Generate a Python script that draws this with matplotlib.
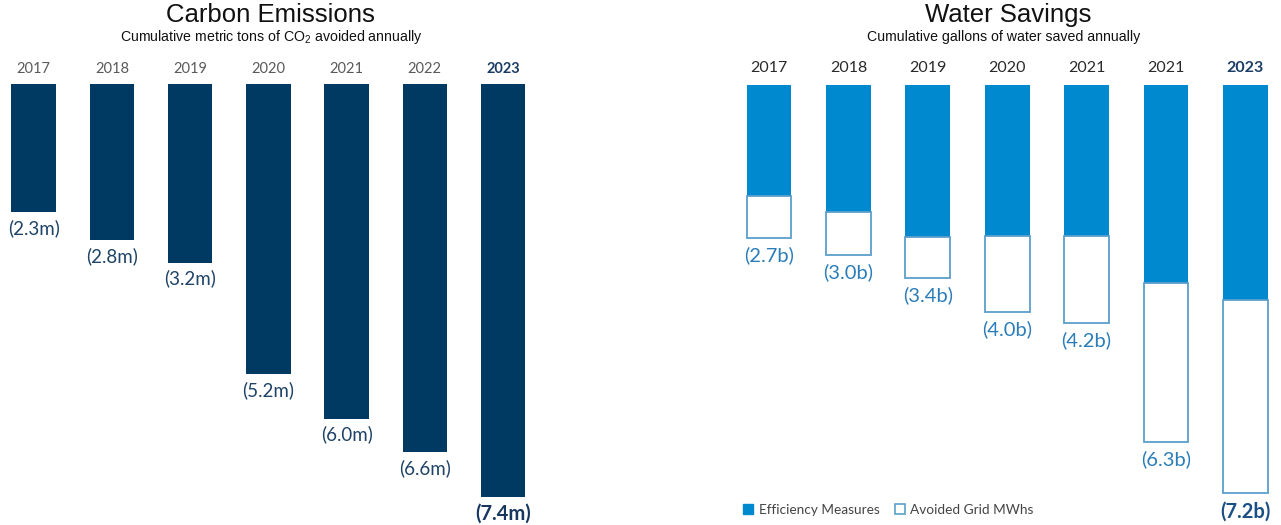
import matplotlib.pyplot as plt
from matplotlib.patches import Patch

plt.rcParams['font.family'] = ['Lato', 'DejaVu Sans']
plt.rcParams['mathtext.fontset'] = 'custom'
plt.rcParams['mathtext.rm'] = 'Liberation Sans'

# data
carbon_years = ['2017', '2018', '2019', '2020', '2021', '2022', '2023']
carbon_values = [2.3, 2.8, 3.2, 5.2, 6.0, 6.6, 7.4]  # million metric tons

water_years = ['2017', '2018', '2019', '2020', '2021', '2021', '2023']
water_efficiency = [1.96, 2.24, 2.68, 2.66, 2.66, 3.49, 3.79]  # billion gallons
water_avoided = [0.74, 0.76, 0.72, 1.34, 1.54, 2.81, 3.41]
water_totals = [2.7, 3.0, 3.4, 4.0, 4.2, 6.3, 7.2]

NAVY = '#003a63'
BLUE = '#0089cf'
OUTLINE = '#5a9fca'

W, H = 1281, 525
fig = plt.figure(figsize=(W / 100, H / 100), dpi=100)


def px_axes(x0, x1, top, bottom):
    return fig.add_axes([x0 / W, (H - bottom) / H, (x1 - x0) / W, (bottom - top) / H])


def clean(ax):
    for s in ax.spines.values():
        s.set_visible(False)
    ax.set_yticks([])
    ax.xaxis.tick_top()
    ax.tick_params(axis='x', length=0)


# ---- Carbon Emissions ----
ax1 = px_axes(2.5, 534.3, 84, 512)
ax1.set_xlim(-0.4, 6.4)
ax1.set_ylim((512 - 84) / 55.8, 0)
x = list(range(len(carbon_years)))
ax1.bar(x, carbon_values, width=0.57, color=NAVY, align='center')
clean(ax1)
ax1.set_xticks(x)
ax1.set_xticklabels(carbon_years, fontsize=10.5, color='#5a5a5a')
ax1.tick_params(axis='x', pad=6)
lab = ax1.get_xticklabels()[-1]
lab.set_fontweight('bold')
lab.set_color('#1b3d66')
for i, v in enumerate(carbon_values):
    last = i == len(carbon_values) - 1
    ax1.annotate(f'({v:.1f}m)', (i, v), xytext=(0, -5), textcoords='offset points',
                 ha='center', va='top', fontsize=14.5 if last else 13.5,
                 fontweight='bold' if last else 'normal',
                 color='#17375e' if last else '#1f4468', annotation_clip=False)

fig.text(270 / W, 1 - 15 / H, 'Carbon Emissions', ha='center', va='center',
         fontsize=18.5, family='Liberation Sans', color='#111111')
fig.text(271 / W, 1 - 37 / H, r'Cumulative metric tons of CO$_{2}$ avoided annually',
         ha='center', va='center', fontsize=10.2, family='Liberation Sans', color='#111111')

# ---- Water Savings ----
ax2 = px_axes(737.2, 1277.1, 85, 512)
ax2.set_xlim(-0.4, 6.4)
ax2.set_ylim((512 - 85) / 56.7, 0)
x2 = list(range(len(water_years)))
ax2.bar(x2, water_efficiency, width=0.565, color=BLUE, linewidth=0)
ax2.bar(x2, water_avoided, width=0.565, bottom=water_efficiency, facecolor='white',
        edgecolor=OUTLINE, linewidth=1.3)
clean(ax2)
ax2.set_xticks(x2)
ax2.set_xticklabels(water_years, fontsize=11.5, color='#2a2a2a')
ax2.tick_params(axis='x', pad=7)
lab = ax2.get_xticklabels()[-1]
lab.set_fontweight('bold')
lab.set_color('#1b3d66')
for i, v in enumerate(water_totals):
    last = i == len(water_totals) - 1
    ax2.annotate(f'({v:.1f}b)', (i, v), xytext=(0, -6), textcoords='offset points',
                 ha='center', va='top', fontsize=14.5,
                 fontweight='bold' if last else 'normal',
                 color='#1a4f85' if last else '#2a7db8', annotation_clip=False)

fig.text(1008 / W, 1 - 15 / H, 'Water Savings', ha='center', va='center',
         fontsize=18.5, family='Liberation Sans', color='#111111')
fig.text(1004 / W, 1 - 37 / H, 'Cumulative gallons of water saved annually',
         ha='center', va='center', fontsize=10.2, family='Liberation Sans', color='#111111')

handles = [Patch(facecolor=BLUE, edgecolor=BLUE, label='Efficiency Measures'),
           Patch(facecolor='white', edgecolor=OUTLINE, linewidth=1.2, label='Avoided Grid MWhs')]
fig.legend(handles=handles, loc='center left', bbox_to_anchor=(731 / W, 1 - 510 / H),
           ncol=2, frameon=False, fontsize=9.8, handlelength=0.75, handleheight=0.75,
           handletextpad=0.4, columnspacing=1.1, labelcolor='#444444')

fig.savefig('out.png', dpi=100)
